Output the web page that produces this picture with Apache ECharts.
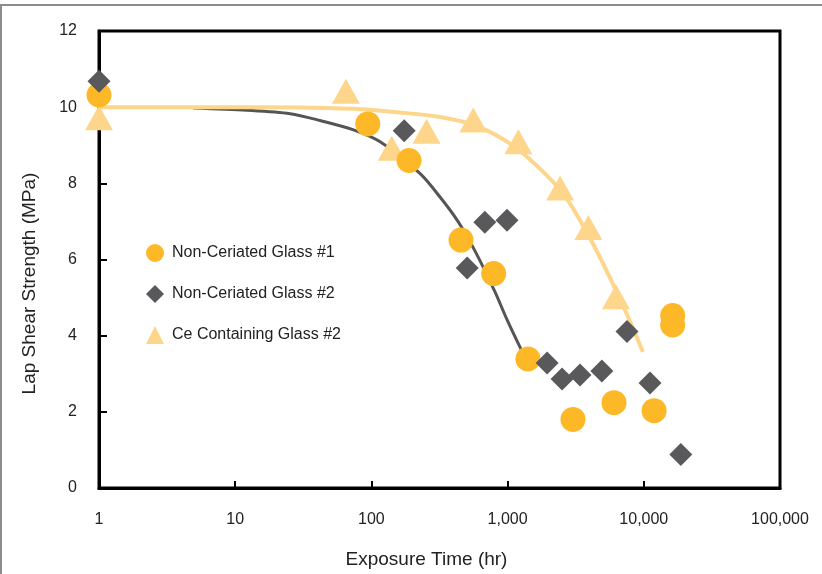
<!DOCTYPE html>
<html>
<head>
<meta charset="utf-8">
<script src="https://cdn.jsdelivr.net/npm/echarts@6/dist/echarts.min.js"></script>
<style>html,body{margin:0;padding:0;background:#fff}#c{width:822px;height:574px}</style>
</head>
<body>
<div id="c"></div>
<script>
// Non-Ceriated Glass #1 (circles)
var glass1Time = [1, 94, 189, 455, 790, 1410, 3020, 6040, 11900, 16300, 16300];
var glass1Strength = [10.32, 9.56, 8.6, 6.51, 5.63, 3.39, 1.8, 2.24, 2.03, 4.53, 4.28];
// Non-Ceriated Glass #2 (diamonds)
var glass2Time = [1, 174, 505, 680, 990, 1950, 2510, 3400, 4920, 7530, 11100, 18700];
var glass2Strength = [10.68, 9.38, 5.78, 6.98, 7.03, 3.28, 2.86, 2.97, 3.07, 4.11, 2.76, 0.88];
// Ce Containing Glass #2 (triangles)
var ceTime = [1, 65, 141, 254, 560, 1200, 2430, 3920, 6250];
var ceStrength = [9.72, 10.42, 8.92, 9.37, 9.66, 9.09, 7.88, 6.84, 5.02];
// Fitted curve, non-ceriated glass
var fitGreyTime = [4.9, 12.2, 25.3, 42, 73, 116, 227, 319, 432, 577, 808, 990, 1233, 1365];
var fitGreyStrength = [9.98, 9.92, 9.83, 9.65, 9.41, 9.09, 8.26, 7.64, 7.0, 6.22, 5.15, 4.42, 3.7, 3.39];
// Fitted curve, Ce containing glass
var fitCeTime = [1, 10, 30, 80, 162, 319, 590, 1095, 1937, 2716, 4030, 5650, 7500, 9860];
var fitCeStrength = [10.0, 10.0, 9.99, 9.95, 9.86, 9.74, 9.51, 8.99, 8.21, 7.6, 6.56, 5.52, 4.57, 3.57];
// Axis ticks
var xTicks = [1, 10, 100, 1000, 10000, 100000];
var yTicks = [0, 2, 4, 6, 8, 10, 12];

function zip(a, b) { return a.map(function (v, i) { return [v, b[i]]; }); }

var FONT = '"Liberation Sans Narrow", "Arial Narrow", "Liberation Sans", Arial, sans-serif';
var chart = echarts.init(document.getElementById('c'), null, { renderer: 'canvas' });
chart.setOption({
  animation: false,
  backgroundColor: '#fff',
  textStyle: { fontFamily: FONT },
  grid: { left: 99, right: 42, top: 31, bottom: 78, show: true, borderColor: '#000', borderWidth: 3, backgroundColor: 'transparent' },
  graphic: [
    { type: 'line', shape: { x1: 0, y1: 5, x2: 822, y2: 5 }, style: { stroke: '#8c8c8c', lineWidth: 2 } },
    { type: 'line', shape: { x1: 1, y1: 5, x2: 1, y2: 574 }, style: { stroke: '#8c8c8c', lineWidth: 2 } }
  ],
  legend: {
    orient: 'vertical', left: 141, top: 239, itemGap: 23,
    itemWidth: 18, itemHeight: 18,
    data: [
      { name: 'Non-Ceriated Glass #1', icon: 'circle' },
      { name: 'Non-Ceriated Glass #2', icon: 'diamond' },
      { name: 'Ce Containing Glass #2', icon: 'triangle' }
    ],
    textStyle: { fontFamily: FONT, fontSize: 16, color: '#222', padding: [0, 0, 0, 3] }
  },
  xAxis: {
    type: 'log', logBase: 10, min: xTicks[0], max: xTicks[xTicks.length - 1],
    name: 'Exposure Time (hr)', nameLocation: 'middle', nameGap: 62,
    nameTextStyle: { fontFamily: FONT, fontSize: 19, color: '#222', padding: [0, 26, 0, 0] },
    axisLine: { show: true, lineStyle: { color: '#000', width: 3 } },
    axisTick: { show: true, inside: true, length: 7, lineStyle: { color: '#000', width: 2 } },
    minorTick: { show: false },
    splitLine: { show: false },
    axisLabel: {
      margin: 24, fontSize: 16, color: '#222', fontFamily: FONT,
      formatter: function (v) { return Math.round(v).toLocaleString('en-US'); }
    }
  },
  yAxis: {
    type: 'value', min: yTicks[0], max: yTicks[yTicks.length - 1], interval: 2,
    name: 'Lap Shear Strength (MPa)', nameLocation: 'middle', nameGap: 60, nameRotate: 90,
    nameTextStyle: { fontFamily: FONT, fontSize: 19, color: '#222', padding: [0, 0, 0, -48] },
    axisLine: { show: true, lineStyle: { color: '#000', width: 3 } },
    axisTick: { show: true, inside: true, length: 8, lineStyle: { color: '#000', width: 2 } },
    splitLine: { show: false },
    axisLabel: { margin: 22, fontSize: 16, color: '#222', fontFamily: FONT }
  },
  series: [
    {
      name: 'fitGrey', type: 'line', data: zip(fitGreyTime, fitGreyStrength), smooth: 0.3,
      showSymbol: false, symbol: 'none', lineStyle: { color: '#555555', width: 3 }, z: 1, silent: true
    },
    {
      name: 'fitCe', type: 'line', data: zip(fitCeTime, fitCeStrength), smooth: 0.3,
      showSymbol: false, symbol: 'none', lineStyle: { color: '#FDD68C', width: 4 }, z: 1, silent: true
    },
    {
      name: 'Ce Containing Glass #2', type: 'scatter', data: zip(ceTime, ceStrength),
      symbol: 'triangle', symbolSize: [28, 25], clip: false,
      itemStyle: { color: '#FDD68C', opacity: 1 }, z: 3
    },
    {
      name: 'Non-Ceriated Glass #1', type: 'scatter', data: zip(glass1Time, glass1Strength),
      symbol: 'circle', symbolSize: 25, clip: false,
      itemStyle: { color: '#FDB827', opacity: 1 }, z: 4
    },
    {
      name: 'Non-Ceriated Glass #2', type: 'scatter', data: zip(glass2Time, glass2Strength),
      symbol: 'diamond', symbolSize: 23, clip: false,
      itemStyle: { color: '#59595B', opacity: 1 }, z: 5
    }
  ]
});
</script>
</body>
</html>
